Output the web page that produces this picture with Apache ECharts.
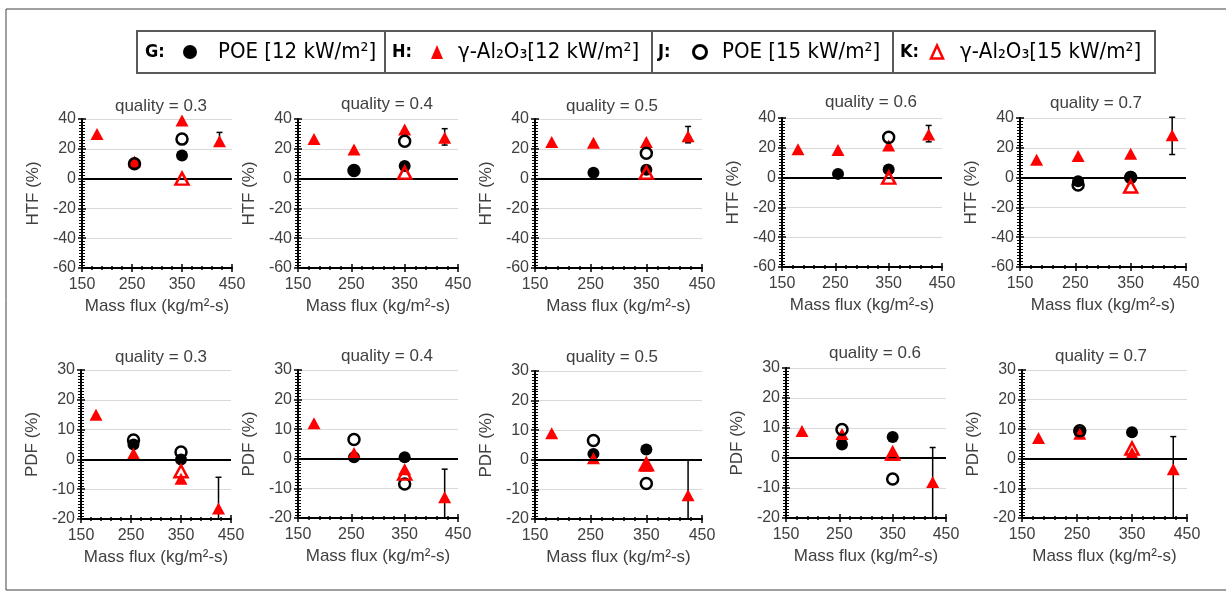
<!DOCTYPE html>
<html>
<head>
<meta charset="utf-8">
<script src="https://cdn.jsdelivr.net/npm/echarts@6/dist/echarts.min.js"></script>
<style>
html,body{margin:0;padding:0;background:#fff;}
#chart{width:1226px;height:594px;}
</style>
</head>
<body>
<div id="chart"></div>
<script>
// ---------------- data ----------------
const massFlux = [180, 255, 350, 425];
const qualities = ['0.3', '0.4', '0.5', '0.6', '0.7'];
const xTicks = [150, 250, 350, 450];

// HTF (%) – one row per quality, values aligned with massFlux
const htfG = [[null, 10, 15.5, null], [null, 5.5, 8.5, null], [null, 4, 6, null], [null, 2.5, 5.5, null], [null, -2.5, 0.5, null]];
const htfH = [[30, 11.5, 39, 25], [26.5, 19.5, 33, 27.5], [24.5, 24, 24.5, 28.5], [19, 18.5, 21.5, 29], [12, 14.5, 16, 28.5]];
const htfJ = [[null, 10, 26.5, null], [null, 5.5, 25, null], [null, null, 17, null], [null, null, 27, null], [null, -5, 0, null]];
const htfK = [[null, null, 0, null], [null, null, 4, null], [null, null, 4, null], [null, null, 0, null], [null, null, -6, null]];
const htfErrLow = [22, 22.5, 24, 24, 15.5];
const htfErrHigh = [31, 33.5, 35, 35, 40.5];

// PDF (%)
const pdfG = [[null, 5, 0, null], [null, 0.5, 0.5, null], [null, 2, 3.5, null], [null, 4.5, 7, null], [null, 9, 9, null]];
const pdfH = [[15, 2, -6.5, -16.5], [12, 2, -3.5, -13], [9, 0.5, -2, -12], [9, 8, 1, -8], [7, 8.5, 2, -3.5]];
const pdfJ = [[null, 6.5, 2.5, null], [null, 6.5, -8.5, null], [null, 6.5, -8, null], [null, 9.5, -7, null], [null, 9.5, null, null]];
const pdfK = [[null, null, -4, null], [null, null, -5, null], [null, null, -1.5, null], [null, null, 1.5, null], [null, null, 3.5, null]];
const pdfErrLow = [-20, -20, -20, -20, -20];
const pdfErrHigh = [-6, -3.5, 0, 3.5, 7.5];

const htfAxis = {min: -60, max: 40, interval: 20, name: 'HTF (%)'};
const pdfAxis = {min: -20, max: 30, interval: 10, name: 'PDF (%)'};

// ---------------- layout ----------------
const gridBoxes = [
  [82, 119, 150, 149], [298, 119, 160, 149], [535, 119, 167, 149], [782, 118, 160, 149], [1020, 118, 166, 149],
  [81, 370, 150, 149], [298, 370, 160, 148], [535, 371, 167, 148], [786, 368, 160, 150], [1022, 370, 165, 148]
];
const titleCenter = [
  [156, 104], [382, 102], [607, 104], [866, 100], [1091, 101],
  [156, 355], [382, 354], [607, 355], [870, 351], [1096, 354]
];

const FONT = "'Liberation Sans', Arial, sans-serif";
const LEG_FONT = "'Liberation Sans Narrow', 'DejaVu Sans Condensed', 'Liberation Sans', sans-serif";
const TXT = '#404040';

const grids = [], xAxes = [], yAxes = [], series = [], titles = [];

function pts(arr) {
  return massFlux.map((x, k) => [x, arr[k]]).filter(p => p[1] !== null);
}

function errRender(params, api) {
  const x = api.value(0);
  const lo = api.coord([x, api.value(1)]);
  const hi = api.coord([x, api.value(2)]);
  const w = 3;
  return {
    type: 'group',
    children: [
      {type: 'line', shape: {x1: lo[0], y1: lo[1], x2: hi[0], y2: hi[1]}, style: {stroke: '#000', lineWidth: 1.5}},
      {type: 'line', shape: {x1: hi[0] - w, y1: hi[1], x2: hi[0] + w, y2: hi[1]}, style: {stroke: '#000', lineWidth: 1.5}},
      {type: 'line', shape: {x1: lo[0] - w, y1: lo[1], x2: lo[0] + w, y2: lo[1]}, style: {stroke: '#000', lineWidth: 1.5}}
    ]
  };
}

for (let i = 0; i < 10; i++) {
  const top = i < 5;
  const q = i % 5;
  const ax = top ? htfAxis : pdfAxis;
  const G = top ? htfG[q] : pdfG[q];
  const H = top ? htfH[q] : pdfH[q];
  const J = top ? htfJ[q] : pdfJ[q];
  const K = top ? htfK[q] : pdfK[q];
  const eLo = top ? htfErrLow[q] : pdfErrLow[q];
  const eHi = top ? htfErrHigh[q] : pdfErrHigh[q];
  const b = gridBoxes[i];
  grids.push({left: b[0], top: b[1], width: b[2], height: b[3], containLabel: false});
  titles.push({
    text: 'quality = ' + qualities[q], left: titleCenter[i][0], top: titleCenter[i][1] - 11, textAlign: 'center',
    padding: 5,
    textStyle: {fontFamily: FONT, fontSize: 17, fontWeight: 'normal', color: TXT}
  });
  // main x axis
  xAxes.push({
    type: 'value', gridIndex: i, position: 'bottom', min: xTicks[0], max: xTicks[xTicks.length - 1], interval: 100,
    name: 'Mass flux (kg/m²-s)', nameLocation: 'middle', nameGap: 30,
    nameTextStyle: {fontFamily: FONT, fontSize: 17, color: TXT},
    axisLine: {show: true, onZero: false, lineStyle: {color: '#000', width: 2}},
    axisTick: {show: true, inside: false, length: 4, lineStyle: {color: '#000', width: 1.5}},
    minorTick: {show: true, splitNumber: 5, length: 2, lineStyle: {color: '#000', width: 1.5}},
    axisLabel: {fontFamily: FONT, fontSize: 16, color: TXT, margin: 9},
    splitLine: {show: false}
  });
  // aux x axis (inside ticks)
  xAxes.push({
    type: 'value', gridIndex: i, position: 'bottom', min: xTicks[0], max: xTicks[xTicks.length - 1], interval: 100,
    axisLine: {show: false, onZero: false},
    axisTick: {show: true, inside: true, length: 4, lineStyle: {color: '#000', width: 1.5}},
    minorTick: {show: true, splitNumber: 5, length: 2, lineStyle: {color: '#000', width: 1.5}},
    axisLabel: {show: false}, splitLine: {show: false}
  });
  // main y axis
  yAxes.push({
    type: 'value', gridIndex: i, position: 'left', min: ax.min, max: ax.max, interval: ax.interval,
    name: ax.name, nameLocation: 'middle', nameGap: 40, nameRotate: 90,
    nameTextStyle: {fontFamily: FONT, fontSize: 17, color: TXT},
    axisLine: {show: true, onZero: false, lineStyle: {color: '#000', width: 2}},
    axisTick: {show: true, inside: false, length: 4, lineStyle: {color: '#000', width: 1.5}},
    minorTick: {show: true, splitNumber: 10, length: 3, lineStyle: {color: '#000', width: 1}},
    axisLabel: {fontFamily: FONT, fontSize: 16, color: TXT, margin: 6},
    splitLine: {show: true, lineStyle: {color: '#d9d9d9', width: 1}}
  });
  // aux y axis (inside ticks)
  yAxes.push({
    type: 'value', gridIndex: i, position: 'left', offset: 0, min: ax.min, max: ax.max, interval: ax.interval,
    axisLine: {show: false, onZero: false},
    axisTick: {show: true, inside: true, length: 4, lineStyle: {color: '#000', width: 1.5}},
    minorTick: {show: true, splitNumber: 10, length: 3, lineStyle: {color: '#000', width: 1}},
    axisLabel: {show: false}, splitLine: {show: false}
  });
  const xi = 2 * i, yi = 2 * i;
  series.push({
    type: 'custom', xAxisIndex: xi, yAxisIndex: yi, renderItem: errRender, z: 1, silent: true,
    data: [[massFlux[3], eLo, eHi]]
  });
  series.push({
    name: 'G', type: 'scatter', xAxisIndex: xi, yAxisIndex: yi, symbol: 'circle', symbolSize: 12, z: 2,
    itemStyle: {color: '#000', opacity: 1}, data: pts(G),
    markLine: {silent: true, symbol: 'none', label: {show: false}, lineStyle: {color: '#000', width: 2, type: 'solid'},
      data: [{yAxis: 0}], animation: false}
  });
  series.push({
    name: 'H', type: 'scatter', xAxisIndex: xi, yAxisIndex: yi, symbol: 'triangle', symbolSize: [13, 12], z: 3,
    itemStyle: {color: '#ff0000', opacity: 1}, data: pts(H)
  });
  series.push({
    name: 'J', type: 'scatter', xAxisIndex: xi, yAxisIndex: yi, symbol: 'circle', symbolSize: 11, z: 4,
    itemStyle: {color: 'rgba(0,0,0,0)', borderColor: '#000', borderWidth: 2.5, opacity: 1}, data: pts(J)
  });
  series.push({
    name: 'K', type: 'scatter', xAxisIndex: xi, yAxisIndex: yi, symbol: 'triangle', symbolSize: [13, 12], z: 5,
    itemStyle: {color: 'rgba(0,0,0,0)', borderColor: '#ff0000', borderWidth: 2.5, opacity: 1}, data: pts(K)
  });
}

// ---------------- legend (graphic) ----------------
const legendLabels = [
  {key: 'G:', text: 'POE [12 kW/m²]'},
  {key: 'H:', text: 'γ-Al₂O₃[12 kW/m²]'},
  {key: 'J:', text: 'POE [15 kW/m²]'},
  {key: 'K:', text: 'γ-Al₂O₃[15 kW/m²]'}
];
const cellKeyX = [145, 392, 658, 900];
const cellSymX = [190, 437, 700, 937];
const cellTextX = [218, 458, 722, 960];
const LY = 52;
const legendEls = [
  {type: 'rect', shape: {x: 137, y: 31, width: 1018, height: 42}, style: {fill: 'none', stroke: '#595959', lineWidth: 2}},
  {type: 'line', shape: {x1: 385, y1: 31, x2: 385, y2: 73}, style: {stroke: '#595959', lineWidth: 2}},
  {type: 'line', shape: {x1: 652, y1: 31, x2: 652, y2: 73}, style: {stroke: '#595959', lineWidth: 2}},
  {type: 'line', shape: {x1: 893, y1: 31, x2: 893, y2: 73}, style: {stroke: '#595959', lineWidth: 2}},
  {type: 'circle', shape: {cx: cellSymX[0], cy: LY, r: 7}, style: {fill: '#000'}},
  {type: 'polygon', shape: {points: [[cellSymX[1] - 6, LY + 7], [cellSymX[1] + 6, LY + 7], [cellSymX[1], LY - 7]]}, style: {fill: '#ff0000'}},
  {type: 'circle', shape: {cx: cellSymX[2], cy: LY, r: 6.5}, style: {fill: 'none', stroke: '#000', lineWidth: 3}},
  {type: 'polygon', shape: {points: [[cellSymX[3] - 6, LY + 6.5], [cellSymX[3] + 6, LY + 6.5], [cellSymX[3], LY - 6.5]]}, style: {fill: 'none', stroke: '#ff0000', lineWidth: 2.5}}
];
legendLabels.forEach((l, k) => {
  legendEls.push({type: 'text', x: cellKeyX[k], y: LY, style: {text: l.key, font: 'bold 18px ' + LEG_FONT, fill: '#000', textVerticalAlign: 'middle'}});
  legendEls.push({type: 'text', x: cellTextX[k], y: LY, style: {text: l.text, font: '22px ' + LEG_FONT, fill: '#000', textVerticalAlign: 'middle'}});
});
// outer frame
legendEls.push({type: 'polyline', shape: {points: [[1226, 9], [6, 9], [6, 590], [1226, 590]]}, style: {fill: 'none', stroke: '#404040', lineWidth: 1}});

const chart = echarts.init(document.getElementById('chart'), null, {renderer: 'canvas'});
chart.setOption({
  backgroundColor: '#fff',
  animation: false,
  title: titles,
  grid: grids,
  xAxis: xAxes,
  yAxis: yAxes,
  series: series,
  graphic: legendEls
});
</script>
</body>
</html>
